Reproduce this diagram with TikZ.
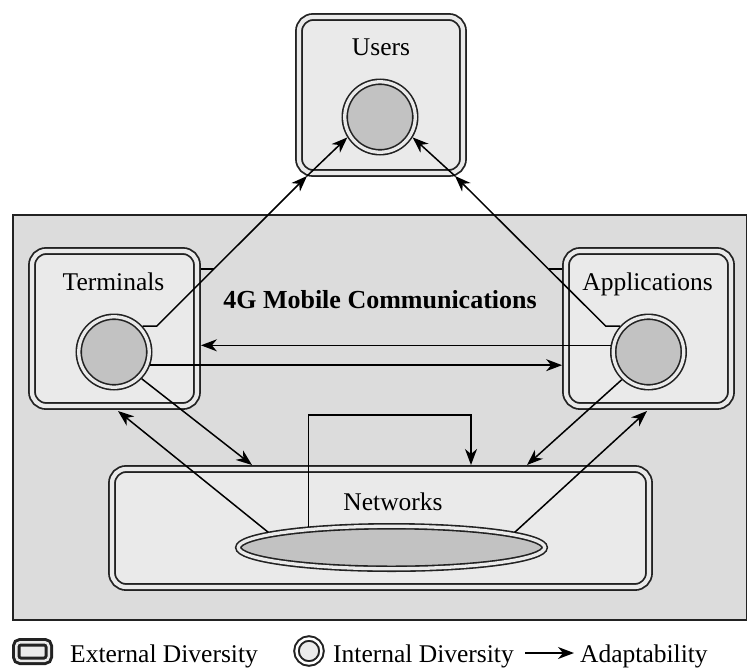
\documentclass[tikz,border=0pt]{standalone}
\usepackage{fontspec}
\setmainfont{Liberation Serif}
\usetikzlibrary{arrows.meta,shapes.geometric}

\definecolor{outergray}{HTML}{DCDCDC}
\definecolor{boxgray}{HTML}{EAEAEA}
\definecolor{coregray}{HTML}{C2C2C2}
\definecolor{inkgray}{HTML}{222222}

\begin{document}
\begin{tikzpicture}[x=1pt,y=-1pt,
  extbox/.style={rectangle,rounded corners=14pt,draw=inkgray,line width=1.8pt,double=boxgray,double distance=4.2pt,fill=boxgray,inner sep=0pt,outer sep=3.9pt},
  intcore/.style={circle,draw=inkgray,line width=1.6pt,double=boxgray,double distance=3.3pt,fill=coregray,inner sep=0pt,outer sep=3.25pt,minimum size=70.5pt},
  lbl/.style={font=\fontsize{25.5}{30}\selectfont,inner sep=0pt},
  link/.style={draw=black,line width=1.5pt},
  adapt/.style={link,-{Stealth[length=16pt,width=12pt,inset=5pt]}}]
\useasboundingbox (0,0) rectangle (747,670);
% 4G area
\filldraw[draw=inkgray,line width=1.7pt,fill=outergray] (13,215) rectangle (747,620);
\node[lbl,font=\fontsize{26}{30}\selectfont\bfseries,anchor=base] (mob) at (380,308) {4G Mobile Communications};

% external diversity
\node[extbox,minimum width=164pt,minimum height=156pt] (usr) at (381,95) {};
\node[extbox,minimum width=165pt,minimum height=155pt] (ter) at (114.5,328.5) {};
\node[extbox,minimum width=165pt,minimum height=155pt] (app) at (648.5,328.5) {};
\node[extbox,minimum width=537pt,minimum height=118pt] (nwb) at (380.5,528) {};
\node[lbl,anchor=base] (usrt) at (381,55) {Users};
\node[lbl,anchor=base] (tert) at (113.5,290) {Terminals};
\node[lbl,anchor=base] (appt) at (647.5,290) {Applications};
\node[lbl,anchor=base] (nwbt) at (393,510) {Networks};

% internal diversity
\node[intcore] (uc) at (380,117) {};
\node[intcore] (tc) at (114,352) {};
\node[intcore] (ac) at (648.5,352) {};
\node[intcore,ellipse,minimum width=306.5pt,minimum height=42.5pt] (net) at (391.5,547.5) {};

% adaptability
\coordinate (tkl) at (214,269);
\coordinate (tkr) at (549,269);
\draw[link] (ter.east |- tkl) -- (tkl);
\draw[link] (tkr) -- (app.west |- tkr);
\coordinate (tu) at (307,176);
\coordinate (au) at (455,176);
\draw[adapt] (tc.42) -- ++(14,0) -- (tu);
\draw[adapt] (tu) -- (uc.212);
\draw[adapt] (ac.138) -- ++(-14,0) -- (au);
\draw[adapt] (au) -- (uc.-32);
\draw[adapt] (ac.170) -- (ac.170 -| ter.east);
\draw[adapt] (tc.-20) -- (tc.-20 -| app.west);
\coordinate (nt) at (252,465);
\coordinate (tn) at (118,411);
\coordinate (na) at (527,465);
\coordinate (an) at (647,411);
\coordinate (nl) at (309,415);
\coordinate (nr) at (471,465);
\draw[adapt] (tc.-44) -- (nt);
\draw[adapt] (net.173) -- (tn);
\draw[adapt] (ac.226) -- (na);
\draw[adapt] (net.7) -- (an);
\draw[adapt] (net.166) -- (net.166 |- nl) -| (nr);

% legend
\node[extbox,line width=3pt,double distance=2.5pt,rounded corners=4pt,minimum width=32.5pt,minimum height=18.5pt] (lgext) at (32.5,651.5) {};
\node[lbl,anchor=base west] (lgextt) at (70,662) {External Diversity};
\node[intcore,line width=2pt,double=white,double distance=2.5pt,fill=boxgray,minimum size=25pt] (lgint) at (309,651) {};
\node[lbl,anchor=base west] (lgintt) at (333,662) {Internal Diversity};
\node[lbl,anchor=base west] (lgadt) at (580,662) {Adaptability};
\coordinate (lga) at (525,653);
\draw[adapt] (lga) -- (lga -| 574,0);
\end{tikzpicture}
\end{document}
